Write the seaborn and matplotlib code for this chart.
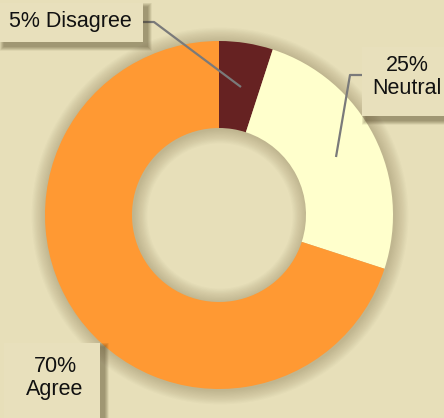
import matplotlib
matplotlib.use("Agg")
import matplotlib.pyplot as plt
from matplotlib.patches import Rectangle, Wedge
import seaborn as sns

# ---- data ----
categories = ["Disagree", "Neutral", "Agree"]
values = [5, 25, 70]
colors = ["#662222", "#ffffcc", "#ff9933"]
label_texts = ["5% Disagree", "25%\nNeutral", "70%\nAgree"]

sns.set_style("white")
plt.rcParams['font.family'] = ['Liberation Sans', 'DejaVu Sans']

W, H = 444, 418
BG = "#e7dfb9"
fig = plt.figure(figsize=(W / 100, H / 100), dpi=100, facecolor=BG)
ax = fig.add_axes([0, 0, 1, 1])
ax.set_facecolor(BG)
ax.set_xlim(0, W)
ax.set_ylim(0, H)
ax.axis("off")

def Y(y):
    return H - y

cx, cy = 219, Y(215)
R_out, R_in = 174, 87

# soft shadow around donut
for i in range(12):
    d = (12 - i) * 1.2
    ax.add_patch(Wedge((cx + 1, cy - 1), R_out + d, 0, 360, width=R_out - R_in + 2 * d,
                       facecolor="#5e4f28", alpha=0.022, lw=0, zorder=1))

wedges, _ = ax.pie(values, colors=colors, startangle=90, counterclock=False,
                   center=(cx, cy), radius=R_out, frame=True,
                   wedgeprops=dict(width=R_out - R_in, linewidth=0, zorder=2))
ax.set_xlim(0, W)
ax.set_ylim(0, H)
ax.set_aspect("auto")
ax.axis("off")

# label boxes (x0, y0, x1, y1 in image px), text centre
boxes = [
    ((0, 3, 143, 42), (70, 22)),
    ((362, 47, 452, 116), (407, 77)),
    ((4, 343, 100, 425), (55, 378)),
]
BOXC = "#e8e0bc"
for (x0, y0, x1, y1), _c in boxes:
    for k in range(9):
        g = 9 - k
        ax.add_patch(Rectangle((x0 + 4 - g * 0.5, Y(y1) - 4 - g * 0.5), (x1 - x0) + g, (y1 - y0) + g,
                               facecolor="#3f3214", alpha=0.055, lw=0, zorder=5))
    ax.add_patch(Rectangle((x0, Y(y1)), x1 - x0, y1 - y0, facecolor=BOXC, lw=0, zorder=6))

for txt, (_, (tx, ty)) in zip(label_texts, boxes):
    ax.text(tx, Y(ty), txt, ha="center", va="center", fontsize=15.5,
            color="#111111", linespacing=1.1, zorder=7)

# leader lines
LC = "#7a7a7a"
ax.plot([143, 154, 241], [Y(22), Y(22), Y(87)], color=LC, lw=1.6, zorder=4,
        solid_capstyle="butt")
ax.plot([362, 350, 336], [Y(75), Y(75), Y(157)], color=LC, lw=1.6, zorder=4,
        solid_capstyle="butt")

fig.savefig("out.png", dpi=100, facecolor=BG)
